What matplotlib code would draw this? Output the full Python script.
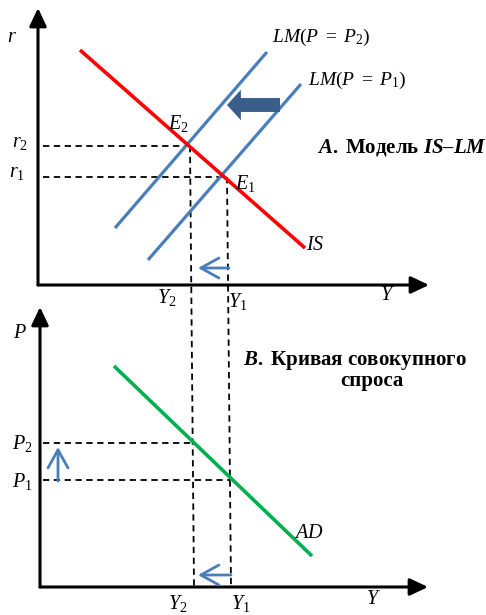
import matplotlib.pyplot as plt

plt.rcParams['font.family'] = ['Liberation Serif', 'DejaVu Serif']
plt.rcParams['mathtext.fontset'] = 'custom'
plt.rcParams['mathtext.rm'] = 'Liberation Serif'
plt.rcParams['mathtext.it'] = 'Liberation Serif:italic'
plt.rcParams['mathtext.bf'] = 'Liberation Serif:bold'
plt.rcParams['mathtext.bfit'] = 'Liberation Serif:bold:italic'

# picture units: x to the right, y downwards (same scale as the 486x615 image)
# top panel: IS-LM
TOP_AXIS_X = [38, 38]
TOP_AXIS_Y = [285, 8]
TOP_XAXIS_X = [38, 429]
TOP_XAXIS_Y = [285, 285]
IS_X = [80, 305]
IS_Y = [50, 248]
LM2_X = [115, 267]
LM2_Y = [228, 52]
LM1_X = [148, 301]
LM1_Y = [260, 84]
E2 = (189, 146)
E1 = (227, 177)

# bottom panel: AD
BOT_AXIS_X = [40, 40]
BOT_AXIS_Y = [587, 307]
BOT_XAXIS_X = [40, 428]
BOT_XAXIS_Y = [587, 587]
AD_X = [114, 312]
AD_Y = [366, 556]
P2_PT = (193, 443)
P1_PT = (230, 480)

# vertical guides from the IS-LM equilibria down to the Y axis of panel B
Y2_GUIDE_X = [190, 194]
Y2_GUIDE_Y = [146, 587]
Y1_GUIDE_X = [227, 231]
Y1_GUIDE_Y = [177, 587]

# shift arrows (tail, head)
BIG_ARROW = ((280, 105), (227, 105))
TOP_SMALL_ARROW = ((229, 268), (198, 268))
UP_ARROW = ((58, 481), (58, 447))
BOT_SMALL_ARROW = ((231, 575), (198, 575))

RED = '#ff0000'
BLUE = '#4a7ebb'
DARK_BLUE = '#3a5e8c'
GREEN = '#00b050'

fig = plt.figure(figsize=(4.86, 6.15), dpi=100)
ax = fig.add_axes([0, 0, 1, 1])
ax.set_xlim(0, 486)
ax.set_ylim(615, 0)
ax.axis('off')

dash = dict(color='black', lw=1.3, linestyle=(0, (3.5, 2.5)))


def axis_arrow(xs, ys):
    ax.annotate('', xy=(xs[1], ys[1]), xytext=(xs[0], ys[0]),
                arrowprops=dict(arrowstyle='-|>,head_length=0.55,head_width=0.26',
                                mutation_scale=20, lw=2.2, color='black',
                                shrinkA=0, shrinkB=0))


def open_arrow(tail, head):
    ax.annotate('', xy=head, xytext=tail,
                arrowprops=dict(arrowstyle='->,head_length=0.65,head_width=0.36',
                                mutation_scale=20, lw=2.0, color=BLUE,
                                shrinkA=0, shrinkB=0))


# axes
axis_arrow(TOP_AXIS_X, TOP_AXIS_Y)
axis_arrow(TOP_XAXIS_X, TOP_XAXIS_Y)
axis_arrow(BOT_AXIS_X, BOT_AXIS_Y)
axis_arrow(BOT_XAXIS_X, BOT_XAXIS_Y)

# guides
ax.plot([43, E2[0]], [E2[1], E2[1]], **dash)
ax.plot([43, E1[0]], [E1[1], E1[1]], **dash)
ax.plot([43, P2_PT[0]], [P2_PT[1], P2_PT[1]], **dash)
ax.plot([43, P1_PT[0]], [P1_PT[1], P1_PT[1]], **dash)
ax.plot(Y2_GUIDE_X, Y2_GUIDE_Y, **dash)
ax.plot(Y1_GUIDE_X, Y1_GUIDE_Y, **dash)

# curves
ax.plot(LM2_X, LM2_Y, color=BLUE, lw=2.3, solid_capstyle='butt')
ax.plot(LM1_X, LM1_Y, color=BLUE, lw=2.3, solid_capstyle='butt')
ax.plot(IS_X, IS_Y, color=RED, lw=2.6, solid_capstyle='butt')
ax.plot(AD_X, AD_Y, color=GREEN, lw=2.6, solid_capstyle='butt')

# arrows
ax.annotate('', xy=BIG_ARROW[1], xytext=BIG_ARROW[0],
            arrowprops=dict(arrowstyle='simple,head_length=0.5,head_width=1.1,tail_width=0.5',
                            mutation_scale=20, color=DARK_BLUE, lw=0,
                            shrinkA=0, shrinkB=0))
open_arrow(*TOP_SMALL_ARROW)
open_arrow(*UP_ARROW)
open_arrow(*BOT_SMALL_ARROW)

fs = 14.5
lab = dict(fontsize=fs, ha='center', va='center')
ax.text(12, 37, r'$r$', **lab)
ax.text(20, 143, r'$r_{\mathrm{2}}$', **lab)
ax.text(17, 173, r'$r_{\mathrm{1}}$', **lab)
ax.text(178, 124, r'$E_{\mathrm{2}}$', **lab)
ax.text(245, 183, r'$E_{\mathrm{1}}$', **lab)
ax.text(272, 37, r'$LM(P\ =\ P_{\mathrm{2}})$', fontsize=14, ha='left', va='center')
ax.text(308, 80, r'$LM(P\ =\ P_{\mathrm{1}})$', fontsize=14, ha='left', va='center')
ax.text(306, 245, r'$IS$', fontsize=fs, ha='left', va='center')
ax.text(167, 298, r'$Y_{\mathrm{2}}$', **lab)
ax.text(238, 302, r'$Y_{\mathrm{1}}$', **lab)
ax.text(387, 296, r'$Y$', **lab)
ax.text(317, 148, r'$\mathbfit{A}\mathbf{.\ Модель\ }\mathbfit{IS–LM}$',
        fontsize=15, ha='left', va='center')

ax.text(20, 333, r'$P$', **lab)
ax.text(22, 443, r'$P_{\mathrm{2}}$', **lab)
ax.text(22, 481, r'$P_{\mathrm{1}}$', **lab)
ax.text(243, 360, r'$\mathbfit{B}\mathbf{.\ Кривая\ совокупного}$',
        fontsize=15, ha='left', va='center')
ax.text(372, 381, 'спроса', fontsize=15, fontweight='bold', ha='center', va='center')
ax.text(309, 533, r'$AD$', **lab)
ax.text(178, 604, r'$Y_{\mathrm{2}}$', **lab)
ax.text(241, 604, r'$Y_{\mathrm{1}}$', **lab)
ax.text(373, 600, r'$Y$', **lab)

fig.savefig('out.png', dpi=100)
